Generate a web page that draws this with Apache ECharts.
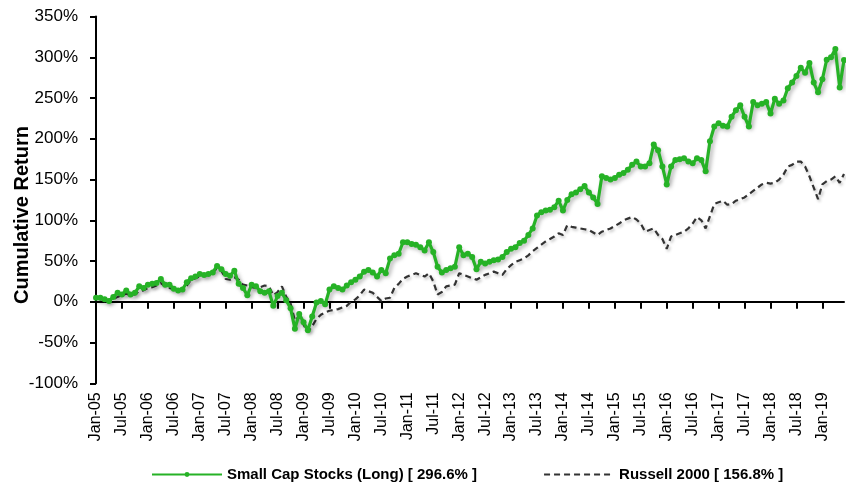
<!DOCTYPE html>
<html>
<head>
<meta charset="utf-8">
<script src="https://cdn.jsdelivr.net/npm/echarts@6/dist/echarts.min.js"></script>
<style>
html,body{margin:0;padding:0;background:#fff;}
#chart{width:846px;height:485px;}
</style>
</head>
<body>
<div id="chart"></div>
<script>
// ---- data ----
const startYear = 2005;
const monthNames = ['Jan','Feb','Mar','Apr','May','Jun','Jul','Aug','Sep','Oct','Nov','Dec'];
const months = [];
for (let i = 0; i < 174; i++) {
  const y = startYear + Math.floor(i / 12);
  months.push(monthNames[i % 12] + '-' + String(y % 100).padStart(2, '0'));
}

const smallCapName = 'Small Cap Stocks (Long) [ 296.6% ]';
const russellName = 'Russell 2000 [ 156.8% ]';

// cumulative return, % (Jan-05 .. Jun-19)
const smallCap = [
  5, 5, 3, 1, 6, 11, 9, 14, 9, 11, 19, 17,            // 2005
  21, 22, 23, 28, 21, 21, 16, 14, 15, 24, 29, 31,     // 2006
  34, 33, 34, 36, 44, 40, 34, 32, 38, 22, 17, 8,      // 2007
  21, 19, 13, 11, 13, -5, 7, 11, 2, -8, -33, -15,     // 2008
  -25, -35, -18, -1, 1, -3, 15, 19, 17, 15, 20, 24,   // 2009
  27, 31, 37, 39, 36, 31, 39, 35, 53, 57, 59, 73,     // 2010
  73, 71, 70, 67, 63, 73, 61, 43, 36, 39, 41, 43,     // 2011
  67, 57, 59, 55, 40, 49, 47, 49, 51, 52, 55, 61,     // 2012
  65, 67, 72, 75, 82, 90, 106, 110, 112, 113, 116, 124, // 2013
  112, 125, 132, 134, 138, 142, 134, 128, 120, 154, 152, 150, // 2014
  152, 156, 158, 162, 168, 172, 166, 166, 170, 193, 186, 166, // 2015
  144, 166, 174, 175, 176, 172, 170, 176, 174, 160, 197, 215, // 2016
  219, 216, 215, 227, 235, 241, 227, 215, 245, 241, 243, 245, // 2017
  231, 249, 243, 247, 262, 269, 277, 287, 281, 293, 269, 257, // 2018
  273, 297, 300, 310, 263, 296.6                       // 2019
];
const russell = [
  5, 3, 2, 0, 3, 6, 8, 10, 8, 9, 13, 14,              // 2005
  17, 18, 20, 23, 19, 17, 15, 13, 15, 20, 27, 29,     // 2006
  31, 32, 33, 36, 41, 38, 28, 27, 30, 27, 21, 20,     // 2007
  18, 17, 18, 20, 19, 8, 12, 19, 6, -2, -23, -18,     // 2008
  -28, -37, -30, -21, -16, -13, -11, -10, -9, -7, -5, 0, // 2009
  3, 8, 15, 13, 11, 6, 1, 4, 5, 17, 22, 28,           // 2010
  31, 33, 35, 33, 31, 35, 25, 9, 12, 19, 20, 21,      // 2011
  35, 33, 31, 29, 27, 30, 33, 35, 37, 35, 33, 40,     // 2012
  45, 49, 51, 53, 57, 62, 66, 70, 74, 77, 80, 84,     // 2013
  82, 94, 92, 91, 90, 89, 88, 85, 82, 86, 88, 90,     // 2014
  93, 96, 100, 102, 104, 101, 96, 86, 88, 90, 82, 77, // 2015
  65, 80, 82, 84, 86, 90, 96, 104, 100, 90, 105, 120, // 2016
  122, 124, 119, 120, 124, 126, 128, 132, 136, 140, 144, 146, // 2017
  145, 146, 150, 156, 166, 168, 172, 172, 166, 154, 140, 126, // 2018
  144, 148, 150, 154, 146, 156.8                       // 2019
];
const yTicks = { min: -100, max: 350, step: 50 };

// ---- chart ----
const chart = echarts.init(document.getElementById('chart'), null, { renderer: 'canvas' });
const FONT = 'Arial, "Liberation Sans", sans-serif';
const showEvery6 = (idx) => idx % 6 === 0;

chart.setOption({
  animation: false,
  backgroundColor: '#ffffff',
  grid: { left: 96, right: 2, top: 16.5, bottom: 101.7, containLabel: false },
  legend: {
    left: 146, top: 462,
    itemWidth: 70, itemHeight: 6, itemGap: 66,
    textStyle: { fontFamily: FONT, fontWeight: 'bold', fontSize: 15, color: '#000' },
    data: [
      { name: smallCapName },
      { name: russellName, itemStyle: { opacity: 0 } }
    ]
  },
  xAxis: [
    {
      type: 'category', data: months, boundaryGap: false,
      axisLine: { onZero: true, lineStyle: { color: '#000', width: 2 } },
      axisTick: { show: true, interval: showEvery6, length: 7, lineStyle: { color: '#000', width: 2 } },
      axisLabel: { show: false },
      splitLine: { show: false }
    },
    {
      type: 'category', data: months, boundaryGap: false, position: 'bottom',
      axisLine: { show: false, onZero: false },
      axisTick: { show: false },
      axisLabel: {
        show: true, interval: showEvery6, rotate: 90, margin: 9,
        fontFamily: FONT, fontSize: 16, color: '#000'
      },
      splitLine: { show: false }
    }
  ],
  yAxis: {
    type: 'value', min: yTicks.min, max: yTicks.max, interval: yTicks.step,
    axisLine: { show: true, lineStyle: { color: '#000', width: 2 } },
    axisTick: { show: true, length: 6, lineStyle: { color: '#000', width: 2 } },
    axisLabel: { formatter: '{value}%', margin: 18, fontFamily: FONT, fontSize: 17, color: '#000' },
    splitLine: { show: false }
  },
  graphic: [{
    type: 'text',
    x: 22, y: 215, rotation: Math.PI / 2,
    style: {
      text: 'Cumulative Return', fontFamily: FONT, fontWeight: 'bold', fontSize: 20,
      fill: '#000', textAlign: 'center', textVerticalAlign: 'middle'
    }
  }],
  series: [
    {
      name: russellName, type: 'line', data: russell,
      xAxisIndex: 0, yAxisIndex: 0,
      symbol: 'none', z: 2,
      lineStyle: {
        color: '#333333', width: 2.2, type: [6, 4],
        shadowColor: 'rgba(0,0,0,0.25)', shadowBlur: 3, shadowOffsetX: 1.5, shadowOffsetY: 2
      },
      itemStyle: { color: '#333333' }
    },
    {
      name: smallCapName, type: 'line', data: smallCap,
      xAxisIndex: 0, yAxisIndex: 0,
      symbol: 'circle', symbolSize: 6, showSymbol: true, showAllSymbol: true, z: 3,
      lineStyle: {
        color: '#26b226', width: 3.2,
        shadowColor: 'rgba(0,0,0,0.35)', shadowBlur: 4, shadowOffsetX: 2, shadowOffsetY: 3
      },
      itemStyle: { color: '#26b226' }
    }
  ]
});
</script>
</body>
</html>
